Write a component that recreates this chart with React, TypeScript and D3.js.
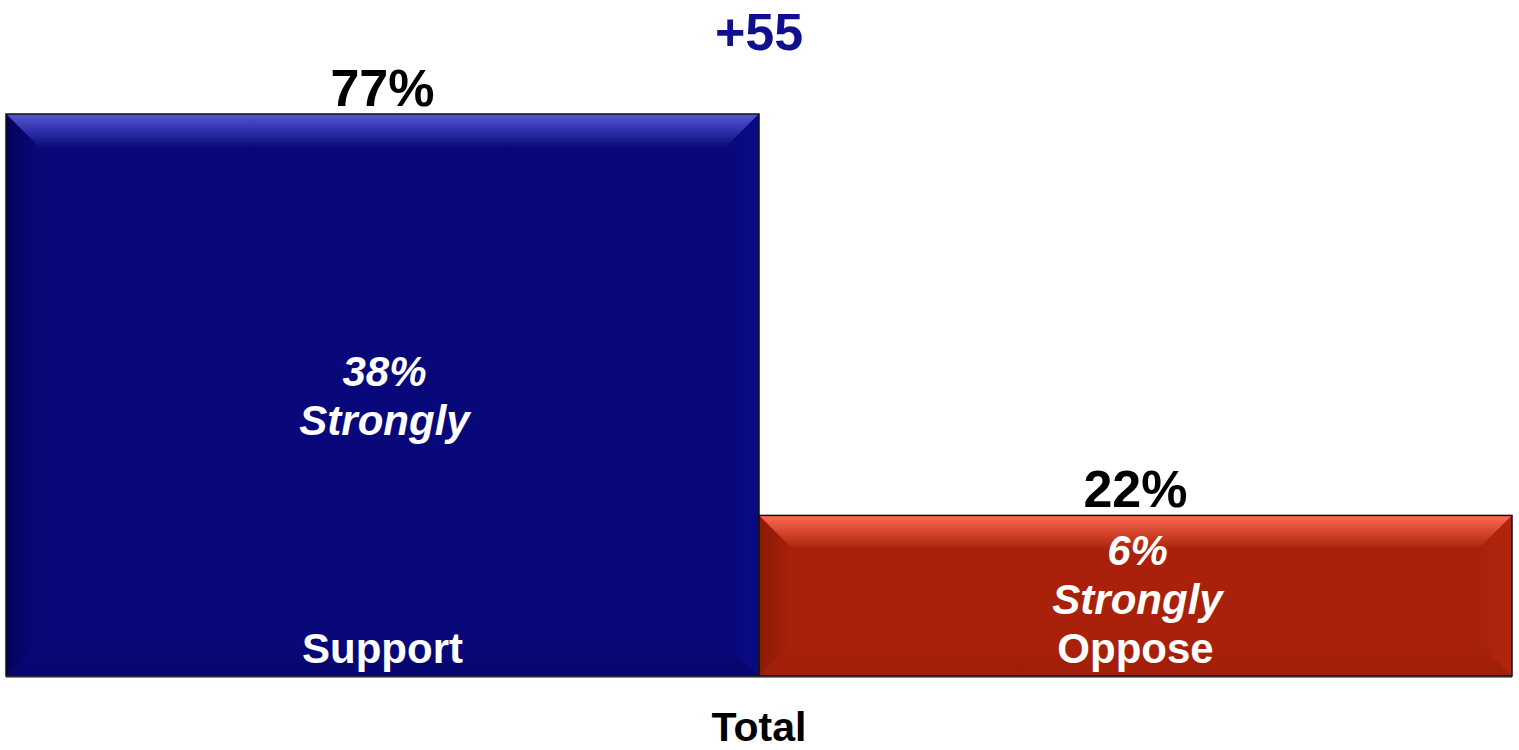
import React from "react";
import * as d3 from "d3";

const categories = ["Support", "Oppose"];
const values = [77, 22];
const strongly = [38, 6];
const groupLabel = "Total";

const W = 1519;
const H = 750;
const FONT = "'Liberation Sans', Arial, Helvetica, sans-serif";

const palettes = [
  { body: "#08087a", top: "#5656d6", left: "#03035a", right: "#0a0a86", bottom: "#06066e" },
  { body: "#a9210a", top: "#ff6a50", left: "#8a1a06", right: "#b2260d", bottom: "#a01e08" },
];

export default function App() {
  const x = d3.scaleBand<string>().domain(categories).range([6, 1512]).padding(0);
  const y = d3.scaleLinear().domain([0, d3.max(values) as number]).range([676, 114]);
  const bev = 34;
  const lh = 49;
  const labelBaseline = 663;
  const diff = values[0] - values[1];

  return (
    <svg width={W} height={H} style={{ position: "absolute", left: 0, top: 0 }} fontFamily={FONT}>
      <defs>
        {palettes.map((p, i) => (
          <React.Fragment key={i}>
            <linearGradient id={`top${i}`} x1="0" y1="0" x2="0" y2="1">
              <stop offset="0%" stopColor={p.top} />
              <stop offset="100%" stopColor={p.body} />
            </linearGradient>
            <linearGradient id={`left${i}`} x1="0" y1="0" x2="1" y2="0">
              <stop offset="0%" stopColor={p.left} />
              <stop offset="100%" stopColor={p.body} />
            </linearGradient>
            <linearGradient id={`right${i}`} x1="1" y1="0" x2="0" y2="0">
              <stop offset="0%" stopColor={p.right} />
              <stop offset="100%" stopColor={p.body} />
            </linearGradient>
            <linearGradient id={`bot${i}`} x1="0" y1="1" x2="0" y2="0">
              <stop offset="0%" stopColor={p.bottom} />
              <stop offset="100%" stopColor={p.body} />
            </linearGradient>
          </React.Fragment>
        ))}
      </defs>
      {categories.map((c, i) => {
        const x0 = x(c) as number;
        const x1 = x0 + x.bandwidth();
        const y0 = y(values[i]);
        const y1 = y(0);
        const b = Math.min(bev, (y1 - y0) / 2);
        const p = palettes[i];
        const cx = (x0 + x1) / 2;
        const mid = (y0 + y1) / 2;
        let l2 = mid + lh / 2 + 15;
        if (l2 > labelBaseline - lh) l2 = labelBaseline - lh;
        const l1 = l2 - lh;
        return (
          <g key={c}>
            <rect x={x0} y={y1} width={x1 - x0} height={2} fill="#8a8a8a" />
            <rect x={x0} y={y0} width={x1 - x0} height={y1 - y0} fill={p.body} />
            <polygon points={`${x0},${y0} ${x1},${y0} ${x1 - b},${y0 + b} ${x0 + b},${y0 + b}`} fill={`url(#top${i})`} />
            <polygon points={`${x0},${y0} ${x0 + b},${y0 + b} ${x0 + b},${y1 - b} ${x0},${y1}`} fill={`url(#left${i})`} />
            <polygon points={`${x1},${y0} ${x1},${y1} ${x1 - b},${y1 - b} ${x1 - b},${y0 + b}`} fill={`url(#right${i})`} />
            <polygon points={`${x0},${y1} ${x0 + b},${y1 - b} ${x1 - b},${y1 - b} ${x1},${y1}`} fill={`url(#bot${i})`} />
            <rect x={x0} y={y0} width={x1 - x0} height={y1 - y0} fill="none" stroke="#111" strokeWidth={1.5} />
            <text x={cx} y={y0 - 8} textAnchor="middle" fontSize={52} fontWeight="bold" fill="#000">
              {values[i]}%
            </text>
            <text x={cx + 2} y={l1} textAnchor="middle" fontSize={42} fontWeight="bold" fontStyle="italic" fill="#fff">
              {strongly[i]}%
            </text>
            <text x={cx + 2} y={l2} textAnchor="middle" fontSize={42} fontWeight="bold" fontStyle="italic" fill="#fff">
              Strongly
            </text>
            <text x={cx} y={labelBaseline} textAnchor="middle" fontSize={42} fontWeight="bold" fill="#fff">
              {c}
            </text>
          </g>
        );
      })}
      <text x={(x.range()[0] + x.range()[1]) / 2} y={50} textAnchor="middle" fontSize={52} fontWeight="bold" fill="#10108f">
        +{diff}
      </text>
      <text x={(x.range()[0] + x.range()[1]) / 2} y={741} textAnchor="middle" fontSize={41} fontWeight="bold" fill="#000">
        {groupLabel}
      </text>
    </svg>
  );
}
